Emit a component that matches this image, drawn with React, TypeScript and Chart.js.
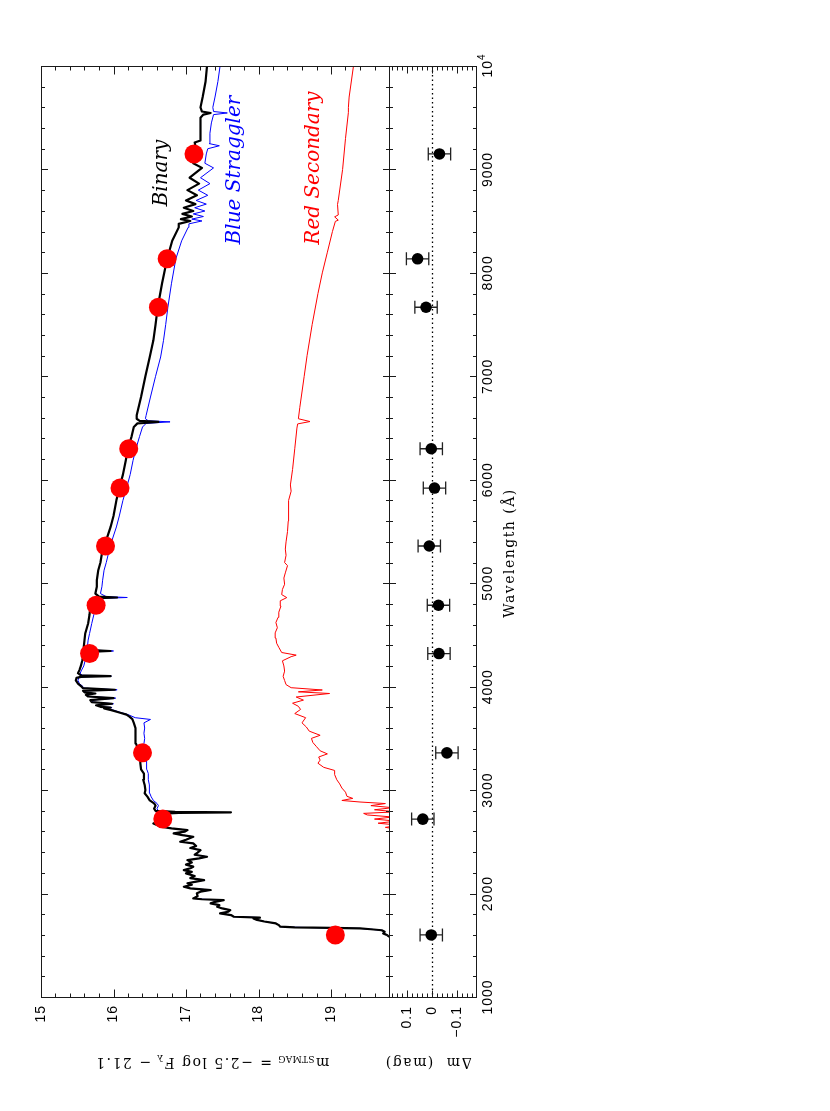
import React, { useEffect, useRef } from "react";
import { Chart, registerables } from "chart.js";
Chart.register(...registerables);

// ---------- DATA ----------
const binaryWave = [1500,1570,1585,1600,1615,1630,1645,1655,1663,1668,1674,1680,1695,1711,1730,1745,1760,1768,1776,1792,1808,1824,1840,1856,1872,1888,1905,1920,1937,1945,1953,1975,2002,2018,2034,2050,2066,2085,2100,2115,2130,2150,2170,2195,2210,2227,2245,2260,2280,2300,2324,2340,2356,2375,2395,2420,2440,2460,2485,2501,2520,2549,2565,2582,2598,2614,2630,2646,2662,2678,2700,2725,2750,2770,2780,2785,2790,2800,2820,2850,2871,2900,2935,2970,3000,3050,3100,3160,3200,3260,3300,3360,3400,3450,3500,3550,3600,3650,3686,3710,3730,3750,3773,3790,3798,3805,3820,3835,3850,3870,3889,3905,3920,3934,3945,3960,3970,3985,4000,4030,4060,4085,4095,4102,4110,4130,4160,4200,4256,4320,4335,4345,4355,4385,4450,4514,4611,4700,4772,4840,4855,4862,4870,4900,4965,5029,5126,5200,5287,5361,5416,5544,5650,5801,5921,6050,6188,6301,6420,6510,6545,6560,6570,6590,6623,6800,7000,7187,7348,7500,7668,7900,8136,8310,8440,8474,8502,8520,8545,8570,8598,8630,8665,8700,8750,8800,8863,8920,9015,9060,9150,9229,9260,9280,9420,9500,9530,9546,9560,9600,9700,9850,10000];
const binaryMag = [20.6,20.1,19.8,19.77,19.72,19.74,19.7,19.55,19.4,19.0,18.5,18.3,18.28,18.24,18.08,17.98,17.93,18.02,17.66,17.62,17.47,17.58,17.61,17.5,17.43,17.46,17.34,17.4,17.52,17.22,17.1,17.16,17.15,17.2,17.34,17.06,16.97,17.08,17.02,17.14,17.25,17.06,17.12,17.0,17.08,16.97,17.06,17.1,17.0,17.08,17.02,17.18,17.29,17.12,17.16,17.2,17.06,17.14,17.1,16.92,17.0,17.1,16.95,16.83,16.98,17.02,16.8,16.65,16.6,16.55,16.62,16.66,16.6,16.62,16.9,17.62,16.85,16.58,16.56,16.58,16.56,16.5,16.47,16.43,16.44,16.43,16.41,16.42,16.38,16.37,16.37,16.38,16.34,16.31,16.31,16.3,16.3,16.28,16.26,16.22,16.18,16.08,15.97,15.87,15.96,15.82,15.76,15.98,15.7,15.68,16.0,15.65,15.62,15.75,15.6,15.58,16.02,15.58,15.56,15.51,15.48,15.49,15.55,15.96,15.55,15.51,15.53,15.55,15.57,15.59,15.65,15.96,15.64,15.59,15.6,15.61,15.65,15.67,15.68,15.72,15.8,16.05,15.8,15.75,15.77,15.77,15.79,15.82,15.84,15.88,15.9,15.96,16.0,16.04,16.08,16.13,16.17,16.2,16.25,16.28,16.33,16.62,16.36,16.32,16.32,16.38,16.44,16.5,16.55,16.58,16.61,16.67,16.74,16.81,16.9,16.9,17.06,16.93,17.08,16.95,17.1,16.97,17.13,17.0,17.15,17.02,17.18,17.05,17.22,17.1,17.1,17.13,17.12,17.2,17.2,17.2,17.24,17.34,17.22,17.2,17.23,17.27,17.29];

const blueWave = [1500,1570,1585,1600,1615,1630,1645,1655,1663,1668,1674,1680,1695,1711,1730,1745,1760,1768,1776,1792,1808,1824,1840,1856,1872,1888,1905,1920,1937,1945,1953,1975,2002,2018,2034,2050,2066,2085,2100,2115,2130,2150,2170,2195,2210,2227,2245,2260,2280,2300,2324,2340,2356,2375,2395,2420,2440,2460,2485,2501,2520,2549,2565,2582,2598,2614,2630,2646,2662,2678,2700,2725,2750,2770,2785,2800,2820,2850,2871,2900,2935,2970,3000,3050,3100,3160,3200,3260,3300,3360,3400,3450,3500,3550,3600,3650,3683,3700,3730,3750,3773,3790,3798,3805,3820,3835,3850,3870,3889,3905,3920,3934,3945,3960,3970,3985,4000,4030,4060,4085,4095,4102,4110,4130,4160,4200,4256,4320,4335,4345,4355,4385,4450,4514,4611,4700,4772,4840,4855,4862,4870,4900,4965,5029,5126,5200,5287,5361,5416,5544,5650,5801,5921,6050,6188,6301,6420,6510,6545,6560,6570,6590,6623,6800,7000,7187,7348,7500,7668,7900,8136,8310,8440,8474,8502,8520,8545,8570,8598,8630,8665,8700,8750,8800,8863,8920,9015,9060,9150,9200,9229,9250,9350,9450,9530,9546,9560,9600,9700,9850,10000];
const blueMag = [20.6,20.1,19.8,19.77,19.72,19.74,19.7,19.55,19.4,19.0,18.5,18.3,18.28,18.24,18.08,17.98,17.93,18.02,17.66,17.62,17.47,17.58,17.61,17.5,17.43,17.46,17.34,17.4,17.52,17.22,17.1,17.16,17.15,17.2,17.34,17.06,16.97,17.08,17.02,17.14,17.25,17.06,17.12,17.0,17.08,16.97,17.06,17.1,17.0,17.08,17.02,17.18,17.29,17.12,17.16,17.2,17.06,17.14,17.1,16.92,17.0,17.1,16.95,16.83,16.98,17.02,16.8,16.66,16.62,16.58,16.64,16.68,16.63,16.66,16.95,16.62,16.6,16.62,16.6,16.55,16.52,16.5,16.5,16.49,16.48,16.48,16.46,16.45,16.46,16.46,16.44,16.42,16.43,16.42,16.43,16.42,16.51,16.3,16.2,16.1,16.0,15.9,15.98,15.84,15.78,16.0,15.72,15.7,16.03,15.67,15.64,15.7,15.62,15.6,16.05,15.6,15.58,15.53,15.51,15.52,15.57,15.97,15.57,15.54,15.56,15.59,15.61,15.63,15.68,16.0,15.68,15.64,15.65,15.67,15.7,15.73,15.75,15.79,15.9,16.19,15.9,15.82,15.84,15.85,15.87,15.9,15.93,15.96,15.98,16.04,16.08,16.13,16.18,16.23,16.27,16.31,16.36,16.4,16.45,16.78,16.48,16.44,16.45,16.51,16.58,16.65,16.69,16.72,16.75,16.8,16.86,16.94,17.03,17.04,17.22,17.08,17.24,17.1,17.26,17.12,17.28,17.14,17.3,17.17,17.33,17.2,17.38,17.26,17.28,17.3,17.46,17.32,17.33,17.35,17.38,17.57,17.38,17.37,17.4,17.44,17.47];

const redWave = [2600,2640,2660,2680,2700,2720,2740,2760,2775,2790,2810,2830,2850,2870,2885,2900,2920,2940,2980,3020,3060,3100,3150,3190,3220,3260,3290,3320,3350,3380,3420,3460,3500,3530,3570,3610,3650,3700,3740,3780,3810,3840,3870,3900,3934,3950,3968,3990,4020,4060,4100,4150,4200,4250,4290,4305,4330,4380,4420,4470,4520,4570,4620,4670,4720,4780,4830,4861,4890,4940,4990,5050,5100,5170,5200,5270,5330,5400,5500,5600,5700,5800,5890,5950,6100,6300,6500,6540,6563,6590,6700,7000,7200,7500,7800,8000,8200,8400,8498,8510,8542,8560,8662,8700,9000,9300,9552,9600,9700,10000];
const redMag = [20.1,19.75,19.95,19.65,19.9,19.6,19.85,19.5,19.45,19.9,19.6,19.85,19.55,19.75,19.4,19.15,19.3,19.22,19.2,19.15,19.12,19.08,19.05,19.05,18.9,18.82,18.85,18.83,18.95,18.85,18.8,18.75,18.73,18.85,18.7,18.66,18.6,18.65,18.5,18.58,18.55,18.47,18.62,18.52,18.98,18.55,18.88,18.45,18.38,18.36,18.34,18.36,18.35,18.33,18.45,18.52,18.32,18.28,18.25,18.24,18.23,18.26,18.24,18.27,18.28,18.31,18.3,18.39,18.32,18.33,18.36,18.35,18.37,18.4,18.36,18.38,18.37,18.38,18.4,18.41,18.42,18.41,18.45,18.44,18.47,18.5,18.53,18.54,18.71,18.55,18.57,18.63,18.67,18.74,18.82,18.88,18.95,19.02,19.06,19.1,19.05,19.1,19.09,19.1,19.16,19.2,19.24,19.24,19.25,19.31];

const obsWave = [1600, 2720, 3360, 4320, 4787, 5360, 5920, 6300, 7668, 8136, 9150];
const obsMag = [19.06, 16.68, 16.40, 15.67, 15.76, 15.89, 16.09, 16.21, 16.62, 16.74, 17.11];
const resDelta = [0.003, 0.037, -0.06, -0.028, -0.026, 0.011, -0.01, 0.003, 0.024, 0.058, -0.03];
const resErr = [0.045, 0.045, 0.045, 0.045, 0.045, 0.045, 0.045, 0.045, 0.045, 0.045, 0.045];

const waveTicks = [1000, 2000, 3000, 4000, 5000, 6000, 7000, 8000, 9000];
const waveTickLabels = ["1000", "2000", "3000", "4000", "5000", "6000", "7000", "8000", "9000"];
const waveTopTick = 10000;
const magTicks = [15, 16, 17, 18, 19];
const magTickLabels = ["15", "16", "17", "18", "19"];
const resTicks = [0.1, 0, -0.1];
const resTickLabels = ["0.1", "0", "\u22120.1"];

const SANS = '"Liberation Sans", Arial, sans-serif';
const SERIF = '"DejaVu Serif", serif';

function setSpacing(ctx: any, px: number) {
  if ("letterSpacing" in ctx) ctx.letterSpacing = px + "px";
}

function rotText(ctx: any, text: string, x: number, y: number, angle: number, align: string, baseline: string, font: string, color: string, spacing = 0) {
  ctx.save();
  ctx.translate(x, y);
  ctx.rotate(angle);
  ctx.font = font;
  setSpacing(ctx, spacing);
  ctx.fillStyle = color;
  ctx.textAlign = align;
  ctx.textBaseline = baseline;
  ctx.fillText(text, 0, 0);
  ctx.restore();
}

function drawParts(ctx: any, parts: any[], cx: number, cy: number, angle: number) {
  ctx.save();
  ctx.translate(cx, cy);
  ctx.rotate(angle);
  ctx.fillStyle = "#000";
  ctx.textAlign = "left";
  ctx.textBaseline = "middle";
  let total = 0;
  const widths: number[] = [];
  for (const p of parts) {
    ctx.font = p.f;
    setSpacing(ctx, p.s);
    const w = ctx.measureText(p.t).width;
    widths.push(w);
    total += w;
  }
  let x = -total / 2;
  parts.forEach((p, i) => {
    ctx.font = p.f;
    setSpacing(ctx, p.s);
    ctx.fillText(p.t, x, p.dy);
    x += widths[i];
  });
  ctx.restore();
}

function frameAndWaveTicks(ctx: any, a: any, ys: any) {
  ctx.strokeStyle = "#1a1a1a";
  ctx.lineWidth = 1;
  ctx.beginPath();
  ctx.rect(a.left + 0.5, a.top + 0.5, a.right - a.left, a.bottom - a.top);
  for (let w = 1000; w <= 10000; w += 200) {
    const y = Math.round(ys.getPixelForValue(w)) + 0.5;
    const L = w % 1000 === 0 ? 7 : 4;
    ctx.moveTo(a.left, y);
    ctx.lineTo(a.left + L, y);
    ctx.moveTo(a.right + 1, y);
    ctx.lineTo(a.right + 1 - L, y);
  }
  ctx.stroke();
}

const mainPlugin = {
  id: "mainDeco",
  afterDraw(chart: any) {
    const { ctx, chartArea: a } = chart;
    const xs = chart.scales.x, ys = chart.scales.y;
    ctx.save();
    frameAndWaveTicks(ctx, a, ys);
    ctx.beginPath();
    for (let i = 0; i <= 24; i++) {
      const v = 15 + i * 0.2;
      const x = Math.round(xs.getPixelForValue(v)) + 0.5;
      const L = i % 5 === 0 ? 8 : 4;
      ctx.moveTo(x, a.bottom + 0.5);
      ctx.lineTo(x, a.bottom + 0.5 - L);
      ctx.moveTo(x, a.top + 0.5);
      ctx.lineTo(x, a.top + 0.5 + L);
    }
    ctx.stroke();
    magTicks.forEach((m, i) => {
      rotText(ctx, magTickLabels[i], xs.getPixelForValue(m), a.bottom + 8, -Math.PI / 2, "right", "middle", `14px ${SANS}`, "#000", 1);
    });
    // y-axis title (upside down)
    drawParts(ctx, [
      { t: "m", f: `14px ${SERIF}`, s: 1.5, dy: 0 },
      { t: "STMAG", f: `9px ${SERIF}`, s: 0.3, dy: 4 },
      { t: " = \u22122.5 log F", f: `14px ${SERIF}`, s: 1.5, dy: 0 },
      { t: "\u03bb", f: `10px ${SERIF}`, s: 0, dy: 4 },
      { t: " \u2212 21.1", f: `14px ${SERIF}`, s: 1.5, dy: 0 },
    ], 212, 1062, Math.PI);
    // curve labels
    rotText(ctx, "Binary", 162, 173, -Math.PI / 2, "center", "middle", `italic 20px ${SERIF}`, "#000", 0);
    rotText(ctx, "Blue Straggler", 235, 170, -Math.PI / 2, "center", "middle", `italic 20px ${SERIF}`, "#0000ff", 0);
    rotText(ctx, "Red Secondary", 314, 168, -Math.PI / 2, "center", "middle", `italic 20px ${SERIF}`, "#ff0000", 0);
    ctx.restore();
  },
};

const resPlugin = {
  id: "resDeco",
  beforeDatasetsDraw(chart: any) {
    const { ctx, chartArea: a } = chart;
    const xs = chart.scales.x, ys = chart.scales.y;
    ctx.save();
    const x0 = Math.round(xs.getPixelForValue(0)) + 0.5;
    ctx.strokeStyle = "#000";
    ctx.lineWidth = 1.3;
    ctx.setLineDash([1.5, 3]);
    ctx.beginPath();
    ctx.moveTo(x0, a.top);
    ctx.lineTo(x0, a.bottom);
    ctx.stroke();
    ctx.setLineDash([]);
    ctx.strokeStyle = "#222";
    ctx.lineWidth = 1.3;
    ctx.beginPath();
    obsWave.forEach((w, i) => {
      const y = ys.getPixelForValue(w);
      const xa = xs.getPixelForValue(resDelta[i] + resErr[i]);
      const xb = xs.getPixelForValue(resDelta[i] - resErr[i]);
      ctx.moveTo(xa, y); ctx.lineTo(xb, y);
      ctx.moveTo(xa, y - 6.5); ctx.lineTo(xa, y + 6.5);
      ctx.moveTo(xb, y - 6.5); ctx.lineTo(xb, y + 6.5);
    });
    ctx.stroke();
    ctx.restore();
  },
  afterDraw(chart: any) {
    const { ctx, chartArea: a } = chart;
    const xs = chart.scales.x, ys = chart.scales.y;
    ctx.save();
    frameAndWaveTicks(ctx, a, ys);
    ctx.beginPath();
    for (let i = -8; i <= 8; i++) {
      const v = i * 0.02;
      const x = Math.round(xs.getPixelForValue(v)) + 0.5;
      const L = i % 5 === 0 ? 7 : 4;
      ctx.moveTo(x, a.bottom + 0.5);
      ctx.lineTo(x, a.bottom + 0.5 - L);
      ctx.moveTo(x, a.top + 0.5);
      ctx.lineTo(x, a.top + 0.5 + L);
    }
    ctx.stroke();
    resTicks.forEach((v, i) => {
      rotText(ctx, resTickLabels[i], xs.getPixelForValue(v), a.bottom + 9, -Math.PI / 2, "right", "middle", `14px ${SANS}`, "#000", 1);
    });
    waveTicks.forEach((w, i) => {
      rotText(ctx, waveTickLabels[i], 488, ys.getPixelForValue(w), -Math.PI / 2, "center", "middle", `14px ${SANS}`, "#000", 1);
    });
    // 10^4
    drawParts(ctx, [
      { t: "10", f: `14px ${SANS}`, s: 1, dy: 0 },
      { t: "4", f: `10px ${SANS}`, s: 0, dy: -6 },
    ], 488, ys.getPixelForValue(waveTopTick), -Math.PI / 2);
    rotText(ctx, "Wavelength (\u00c5)", 510, 553, -Math.PI / 2, "center", "middle", `14px ${SERIF}`, "#000", 1.5);
    drawParts(ctx, [{ t: "\u0394m  (mag)", f: `14px ${SERIF}`, s: 1.5, dy: 0 }], 428, 1062, Math.PI);
    ctx.restore();
  },
};

export default function App() {
  const mainRef = useRef<HTMLCanvasElement>(null);
  const resRef = useRef<HTMLCanvasElement>(null);

  useEffect(() => {
    const line = (wave: number[], mag: number[]) => wave.map((w, i) => ({ x: mag[i], y: w }));
    const c1 = new Chart(mainRef.current as HTMLCanvasElement, {
      type: "scatter",
      data: {
        datasets: [
          { label: "Observed", data: line(obsWave, obsMag), pointRadius: 9.5, pointBackgroundColor: "#ff0000", pointBorderColor: "#ff0000", pointBorderWidth: 0, showLine: false } as any,
          { label: "Binary", data: line(binaryWave, binaryMag), showLine: true, borderColor: "#000000", borderWidth: 2.2, pointRadius: 0, tension: 0, borderJoinStyle: "round" } as any,
          { label: "Blue Straggler", data: line(blueWave, blueMag), showLine: true, borderColor: "#0000ff", borderWidth: 1, pointRadius: 0, tension: 0 } as any,
          { label: "Red Secondary", data: line(redWave, redMag), showLine: true, borderColor: "#ff0000", borderWidth: 1, pointRadius: 0, tension: 0 } as any,
        ],
      },
      options: {
        responsive: false,
        animation: false,
        events: [],
        layout: { padding: { left: 41, right: 441, top: 66, bottom: 114 } },
        scales: {
          x: { type: "linear", min: 15, max: 19.8, display: false },
          y: { type: "linear", min: 1000, max: 10000, display: false },
        },
        plugins: { legend: { display: false }, tooltip: { enabled: false } },
      } as any,
      plugins: [mainPlugin],
    });
    const c2 = new Chart(resRef.current as HTMLCanvasElement, {
      type: "scatter",
      data: {
        datasets: [
          { label: "Residual", data: obsWave.map((w, i) => ({ x: resDelta[i], y: w })), pointRadius: 5.8, pointBackgroundColor: "#000", pointBorderColor: "#000", pointBorderWidth: 0 } as any,
        ],
      },
      options: {
        responsive: false,
        animation: false,
        events: [],
        layout: { padding: { left: 389, right: 354, top: 66, bottom: 114 } },
        scales: {
          x: { type: "linear", min: -0.177, max: 0.173, reverse: true, display: false },
          y: { type: "linear", min: 1000, max: 10000, display: false },
        },
        plugins: { legend: { display: false }, tooltip: { enabled: false } },
      } as any,
      plugins: [resPlugin],
    });
    return () => {
      c1.destroy();
      c2.destroy();
    };
  }, []);

  return (
    <div style={{ position: "absolute", left: 0, top: 0, width: 830, height: 1111, background: "#fff" }}>
      <canvas ref={mainRef} width={830} height={1111} style={{ position: "absolute", left: 0, top: 0 }} />
      <canvas ref={resRef} width={830} height={1111} style={{ position: "absolute", left: 0, top: 0 }} />
    </div>
  );
}
